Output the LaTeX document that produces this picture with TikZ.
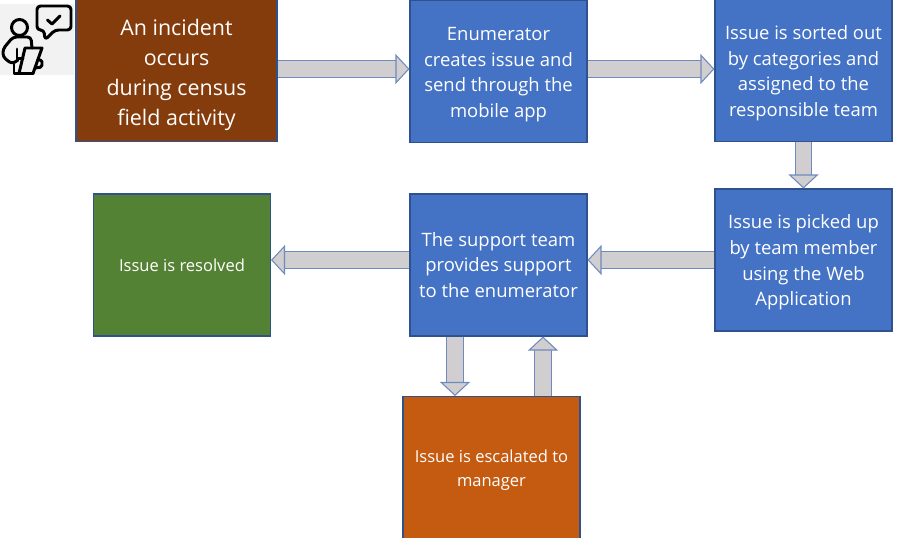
\documentclass[tikz,border=0pt]{standalone}
\usepackage{fontspec}
\setmainfont{Open Sans}
\usetikzlibrary{arrows.meta,positioning}
\definecolor{boxblue}{HTML}{4472C4}
\definecolor{boxedge}{HTML}{2F528F}
\definecolor{boxbrown}{HTML}{843C0C}
\definecolor{boxgreen}{HTML}{548235}
\definecolor{boxorange}{HTML}{C55A11}
\definecolor{flowgray}{HTML}{D0CECE}
\definecolor{flowedge}{HTML}{6F8ABF}
\newcommand{\low}[1]{\rule{0pt}{#1pt}}
\begin{document}
\begin{tikzpicture}[semithick,
	box/.style={draw=boxedge, fill=boxblue, text=white, align=center, inner sep=0pt, minimum width=3.54cm, minimum height=2.84cm, font=\fontsize{10.5}{14.6}\selectfont},
	small/.style={font=\fontsize{9.4}{13.6}\selectfont},
	flow/.style={draw=flowedge, line width=0.6pt, double=flowgray, double distance=0.31cm, -{Triangle[length=0.28cm, width=0.6cm, fill=flowgray]}},
	icon/.style={draw=black, line width=1.7pt, line cap=round, line join=round}
	]
\useasboundingbox (0,0) rectangle (18,-10.76);
% top row
\node[box, fill=boxbrown, minimum width=4.02cm, font=\fontsize{12.2}{17}\selectfont] (incident) at (3.53,-1.41) {\low{14}An incident\\occurs\\during census\\field activity};
\node[box] (creates) at (9.97,-1.43) {\low{11}Enumerator\\creates issue and\\send through the\\mobile app};
\node[box] (sorted) at (16.07,-1.41) {\low{11}Issue is sorted out\\by categories and\\assigned to the\\responsible team};
% middle row
\node[box] (picked) at (16.07,-5.2) {\low{11}Issue is picked up\\by team member\\using the Web\\Application};
\node[box] (support) at (9.97,-5.3) {The support team\\provides support\\to the enumerator};
\node[box, fill=boxgreen, small] (resolved) at (3.64,-5.3) {Issue is resolved};
% bottom
\node[box, fill=boxorange, small] (manager) at (9.83,-9.35) {\low{10}Issue is escalated to\\manager};
% arrows
\draw[flow] (incident.east |- 0,-1.38) -- (creates.west |- 0,-1.38);
\draw[flow] (creates.east |- 0,-1.38) -- (sorted.west |- 0,-1.38);
\draw[flow] (sorted.south) -- (picked.north);
\draw[flow] (picked.west |- 0,-5.2) -- (support.east |- 0,-5.2);
\draw[flow] (support.west |- 0,-5.2) -- (resolved.east |- 0,-5.2);
\draw[flow] ([xshift=-0.87cm]support.south) -- ([xshift=-0.87cm]support.south |- manager.north);
\draw[flow] ([xshift=0.89cm]support.south |- manager.north) -- ([xshift=0.89cm]support.south);
% person icon
\fill[black!5] (0,-0.08) rectangle (1.48,-1.5);
\draw[icon] (0.39,-0.55) circle (0.16);
\draw[icon, rounded corners=2pt] (0.74,-0.12) -- (1.42,-0.12) -- (1.42,-0.6) -- (1.1,-0.6) -- (0.9,-0.8) -- (0.88,-0.6) -- (0.74,-0.6) -- cycle;
\draw[icon] (0.95,-0.4) -- (1.04,-0.48) -- (1.2,-0.32);
\draw[icon, rounded corners=2pt] (0.64,-0.96) -- (0.62,-0.74) -- (0.26,-0.74) -- (0.06,-0.98) -- (0.06,-1.14) -- (0.24,-1.28) -- (0.36,-1.2);
\draw[icon] (0.34,-0.98) -- (0.34,-1.17) -- (0.46,-1.17);
\draw[icon] (0.28,-1.28) -- (0.28,-1.47) -- (0.66,-1.47);
\draw[icon] (0.5,-0.96) -- (0.84,-0.96) -- (0.66,-1.47) -- (0.38,-1.47) -- cycle;
\draw[icon, rounded corners=1pt] (0.75,-1.2) -- (0.84,-1.2) -- (0.84,-1.34) -- (0.7,-1.36);
\end{tikzpicture}
\end{document}
